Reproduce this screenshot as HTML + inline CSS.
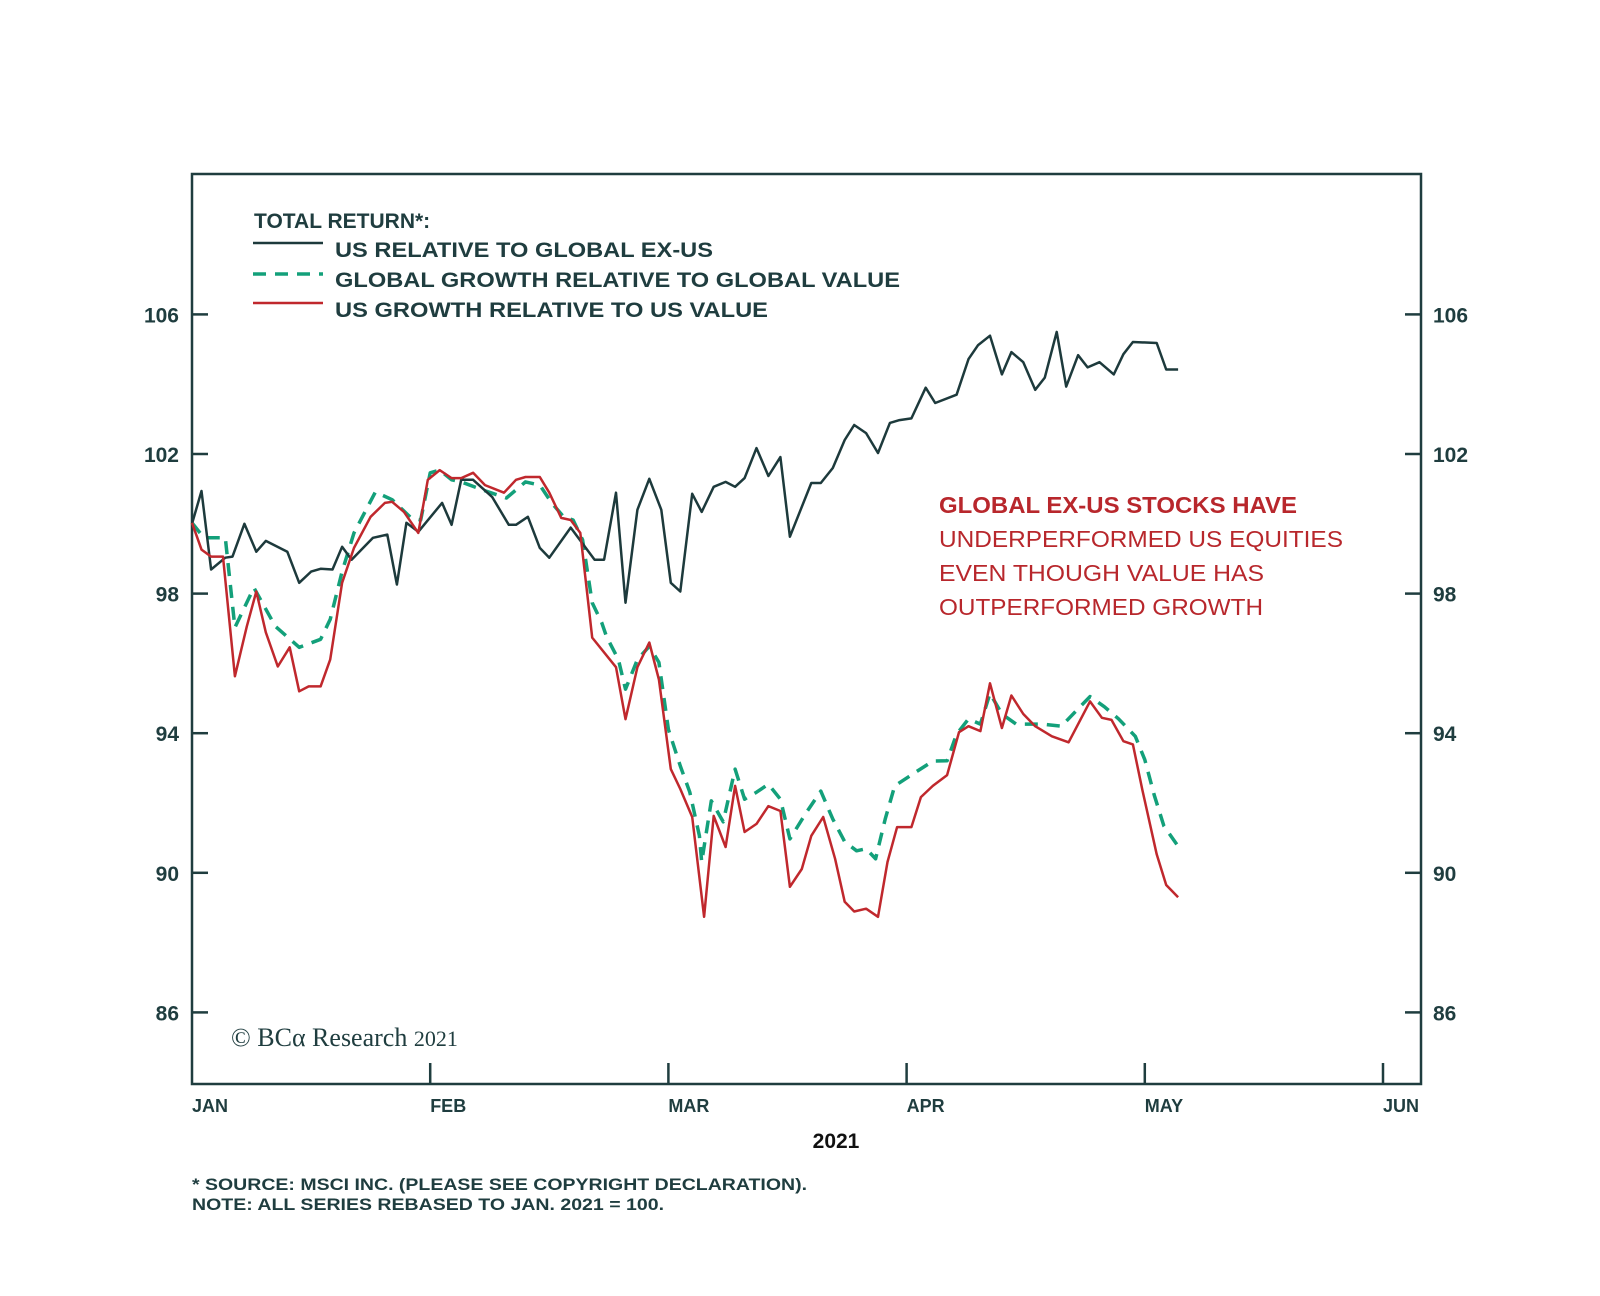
<!DOCTYPE html>
<html><head><meta charset="utf-8"><style>
html,body{margin:0;padding:0;background:#fff;}
svg{display:block;font-family:"Liberation Sans",sans-serif;}
</style></head><body>
<svg id="chart" width="1600" height="1296" viewBox="0 0 1600 1296" xmlns="http://www.w3.org/2000/svg">
<rect x="0" y="0" width="1600" height="1296" fill="#fff"/>
<rect x="192" y="174" width="1229" height="910" fill="none" stroke="#1f3d3f" stroke-width="2.5"/>
<g id="axes"></g>
<g id="series"></g>
<g font-weight="bold" font-size="21" fill="#1f3d3f">
<text x="254" y="228">TOTAL RETURN*:</text>
<line x1="253" y1="243" x2="323" y2="243" stroke="#1d3a3c" stroke-width="2.5"/>
<text x="335" y="257" textLength="378" lengthAdjust="spacingAndGlyphs">US RELATIVE TO GLOBAL EX-US</text>
<line x1="253" y1="274" x2="323" y2="274" stroke="#13a07a" stroke-width="3.5" stroke-dasharray="13,9"/>
<text x="335" y="287" textLength="565" lengthAdjust="spacingAndGlyphs">GLOBAL GROWTH RELATIVE TO GLOBAL VALUE</text>
<line x1="253" y1="303" x2="323" y2="303" stroke="#c0282d" stroke-width="2.5"/>
<text x="335" y="317" textLength="433" lengthAdjust="spacingAndGlyphs">US GROWTH RELATIVE TO US VALUE</text>
</g>
<g font-size="23" fill="#b8272c">
<text x="939" y="513" font-weight="bold" textLength="358" lengthAdjust="spacingAndGlyphs">GLOBAL EX-US STOCKS HAVE</text>
<text x="939" y="547" textLength="404" lengthAdjust="spacingAndGlyphs">UNDERPERFORMED US EQUITIES</text>
<text x="939" y="581" textLength="325" lengthAdjust="spacingAndGlyphs">EVEN THOUGH VALUE HAS</text>
<text x="939" y="615" textLength="324" lengthAdjust="spacingAndGlyphs">OUTPERFORMED GROWTH</text>
</g>
<text x="231" y="1046" font-family="'Liberation Serif',serif" font-size="26" fill="#1f3d3f">© BCα Research <tspan font-size="22">2021</tspan></text>
<text x="836" y="1148" text-anchor="middle" font-weight="bold" font-size="21" fill="#111">2021</text>
<text x="192" y="1190" font-weight="bold" font-size="17" fill="#1f3d3f" textLength="615" lengthAdjust="spacingAndGlyphs">* SOURCE: MSCI INC. (PLEASE SEE COPYRIGHT DECLARATION).</text>
<text x="192" y="1210" font-weight="bold" font-size="17" fill="#1f3d3f" textLength="472" lengthAdjust="spacingAndGlyphs">NOTE: ALL SERIES REBASED TO JAN. 2021 = 100.</text>
</svg>
<script>
// x values are months elapsed since Jan 1 2021
const yTicks = [86, 90, 94, 98, 102, 106];
const monthLabels = ["JAN", "FEB", "MAR", "APR", "MAY", "JUN"];
const usRelM = [0,0.04,0.08,0.14,0.17,0.22,0.27,0.31,0.40,0.45,0.50,0.54,0.59,0.63,0.67,0.76,0.82,0.86,0.90,0.95,1.05,1.09,1.13,1.18,1.26,1.33,1.36,1.41,1.46,1.50,1.59,1.69,1.73,1.78,1.82,1.87,1.92,1.97,2.01,2.05,2.10,2.14,2.19,2.24,2.28,2.32,2.37,2.42,2.47,2.51,2.60,2.64,2.69,2.74,2.78,2.83,2.88,2.93,2.97,3.02,3.08,3.12,3.21,3.26,3.30,3.35,3.40,3.44,3.49,3.54,3.58,3.63,3.67,3.72,3.76,3.81,3.87,3.91,3.95,4.05,4.09,4.14];
const usRelV = [100.0,100.94,98.69,99.03,99.06,100.0,99.2,99.51,99.2,98.31,98.63,98.71,98.69,99.34,98.97,99.6,99.69,98.26,100.03,99.77,100.6,99.97,101.26,101.26,100.77,99.97,99.97,100.2,99.31,99.03,99.89,98.97,98.97,100.89,97.74,100.4,101.29,100.4,98.31,98.06,100.86,100.34,101.06,101.2,101.06,101.31,102.17,101.37,101.91,99.63,101.17,101.17,101.6,102.4,102.83,102.6,102.03,102.89,102.97,103.02,103.9,103.46,103.7,104.72,105.12,105.39,104.28,104.92,104.63,103.84,104.19,105.5,103.93,104.83,104.48,104.63,104.28,104.86,105.21,105.18,104.42,104.42];
const globalGrowthM = [0,0.05,0.14,0.18,0.26,0.35,0.45,0.54,0.58,0.63,0.68,0.77,0.84,0.92,0.96,1.0,1.04,1.09,1.13,1.22,1.32,1.40,1.46,1.51,1.56,1.60,1.64,1.68,1.72,1.74,1.79,1.82,1.87,1.92,1.96,2.0,2.05,2.09,2.13,2.14,2.18,2.23,2.28,2.32,2.37,2.42,2.47,2.51,2.58,2.64,2.69,2.74,2.79,2.83,2.87,2.91,2.95,3.04,3.11,3.17,3.21,3.26,3.31,3.35,3.40,3.46,3.57,3.65,3.72,3.77,3.83,3.89,3.96,4.0,4.04,4.08,4.14];
const globalGrowthV = [100.03,99.6,99.6,97.03,98.17,97.06,96.46,96.69,97.26,98.63,99.74,100.91,100.69,100.17,100.11,101.46,101.54,101.26,101.2,100.97,100.74,101.2,101.11,100.6,100.2,100.11,99.54,97.74,97.17,96.77,96.11,95.26,96.11,96.49,96.03,94.11,93.06,92.31,91.06,90.31,92.06,91.46,92.97,92.11,92.31,92.54,92.11,90.97,91.74,92.34,91.54,90.89,90.63,90.69,90.4,91.54,92.49,92.89,93.2,93.21,93.97,94.41,94.26,95.14,94.55,94.26,94.26,94.2,94.7,95.05,94.76,94.41,93.91,93.24,92.22,91.34,90.76];
const usGrowthM = [0,0.04,0.08,0.13,0.18,0.23,0.27,0.31,0.36,0.41,0.45,0.49,0.54,0.58,0.63,0.68,0.75,0.81,0.84,0.89,0.95,0.99,1.04,1.09,1.13,1.18,1.23,1.31,1.36,1.40,1.46,1.50,1.55,1.59,1.63,1.68,1.78,1.82,1.87,1.92,1.96,2.01,2.05,2.10,2.15,2.19,2.24,2.28,2.32,2.37,2.42,2.47,2.51,2.56,2.60,2.65,2.70,2.74,2.78,2.83,2.88,2.92,2.96,3.02,3.06,3.11,3.17,3.22,3.26,3.31,3.35,3.40,3.44,3.49,3.54,3.61,3.68,3.77,3.82,3.86,3.91,3.95,3.99,4.05,4.09,4.14];
const usGrowthV = [100.03,99.26,99.06,99.06,95.63,97.06,98.06,96.89,95.91,96.46,95.2,95.34,95.34,96.11,98.31,99.31,100.2,100.6,100.63,100.34,99.74,101.26,101.54,101.31,101.31,101.46,101.11,100.89,101.26,101.34,101.34,100.89,100.17,100.11,99.74,96.74,95.89,94.4,95.89,96.6,95.54,92.97,92.4,91.6,88.74,91.63,90.74,92.49,91.17,91.4,91.91,91.77,89.6,90.11,91.06,91.6,90.4,89.17,88.89,88.97,88.74,90.31,91.31,91.31,92.17,92.49,92.8,94.03,94.2,94.06,95.43,94.15,95.08,94.55,94.2,93.91,93.74,94.91,94.44,94.38,93.77,93.68,92.37,90.53,89.65,89.3];

const NS = "http://www.w3.org/2000/svg";
const X0 = 192, MONTH_PX = 238.2;
const Y102 = 454, UNIT_PX = 34.9;
function xScale(m) { return X0 + m * MONTH_PX; }
function yScale(v) { return Y102 - (v - 102) * UNIT_PX; }
function mk(tag, attrs) { const e = document.createElementNS(NS, tag); for (const k in attrs) e.setAttribute(k, attrs[k]); return e; }

const axes = document.getElementById('axes');
yTicks.forEach(function (t) {
  const y = yScale(t);
  const l = mk('line', {x1: 192, y1: y, x2: 208, y2: y, stroke: '#1f3d3f', 'stroke-width': 2.5});
  
  
  axes.appendChild(l);
  const r = mk('line', {x1: 1405, y1: y, x2: 1421, y2: y, stroke: '#1f3d3f', 'stroke-width': 2.5});
  
  
  axes.appendChild(r);
  const tl = mk('text', {x: 179, y: y + 8, 'text-anchor': 'end', 'font-size': 21, 'font-weight': 'bold', fill: '#1f3d3f'});
  tl.textContent = t;
  
  
  axes.appendChild(tl);
  const tr = mk('text', {x: 1433, y: y + 8, 'font-size': 21, 'font-weight': 'bold', fill: '#1f3d3f'});
  tr.textContent = t;
  
  
  axes.appendChild(tr);
});
monthLabels.forEach(function (lab, i) {
  const x = xScale(i);
  if (i > 0) {
    const t = mk('line', {x1: x, y1: 1063, x2: x, y2: 1084, stroke: '#1f3d3f', 'stroke-width': 2.5});
    
    
    axes.appendChild(t);
  }
  const tx = mk('text', {x: x, y: 1112, 'font-size': 18, 'font-weight': 'bold', fill: '#1f3d3f'});
  tx.textContent = lab;
  
  
  axes.appendChild(tx);
});

const g = document.getElementById('series');
function drawLine(ms, vs, attrs, name) {
  const pts = ms.map(function (m, i) { return xScale(m).toFixed(1) + ',' + yScale(vs[i]).toFixed(1); }).join(' ');
  const p = mk('polyline', Object.assign({points: pts, fill: 'none', 'stroke-linejoin': 'round'}, attrs));
  
  
  g.appendChild(p);
}
drawLine(globalGrowthM, globalGrowthV, {stroke: '#13a07a', 'stroke-width': 3.5, 'stroke-dasharray': '13,9'}, 'line-global-growth-vs-value');
drawLine(usRelM, usRelV, {stroke: '#1d3a3c', 'stroke-width': 2.5}, 'line-us-vs-global-ex-us');
drawLine(usGrowthM, usGrowthV, {stroke: '#c0282d', 'stroke-width': 2.5}, 'line-us-growth-vs-value');
</script>
</body></html>
